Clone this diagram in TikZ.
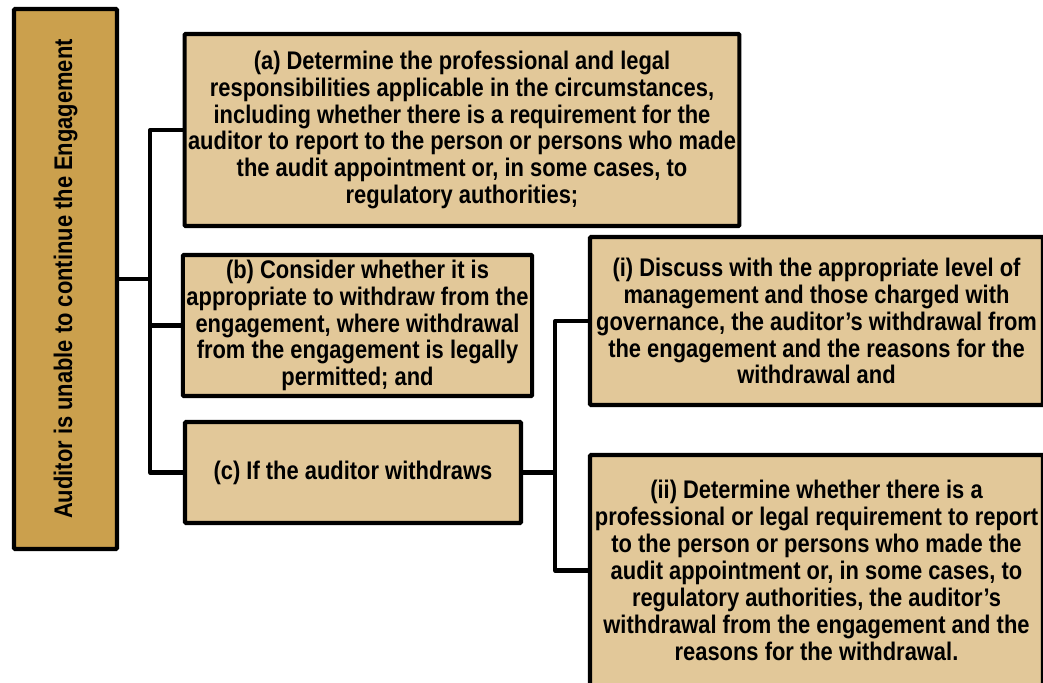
\documentclass[tikz,border=0pt]{standalone}
\usepackage{fontspec}
\setmainfont{Liberation Sans}[FakeStretch=0.86]
\usetikzlibrary{positioning}

\definecolor{goldbox}{HTML}{CBA04D}
\definecolor{tanbox}{HTML}{E2C899}

\tikzset{
  rootbox/.style={draw, line width=2.3pt, fill=goldbox, rounded corners=0.5pt, inner sep=2pt},
  leafbox/.style={draw, line width=2.3pt, fill=tanbox, rounded corners=0.5pt,
    align=center, font=\bfseries\fontsize{14.5}{15.3}\selectfont, inner sep=2pt},
  link/.style={line width=2.3pt, line join=round}
}

\begin{document}
\begin{tikzpicture}
    \useasboundingbox (0,0) rectangle (20.86,-13.64);

    \node[rootbox, minimum width=2.06cm, minimum height=10.8cm] (root) at (1.31,-5.58) {};
    \node[rotate=90, font=\bfseries\fontsize{14.5}{15.3}\selectfont] (rootlabel) at (root.center) {Auditor is unable to continue the Engagement};

    \node[leafbox, minimum width=11.08cm, minimum height=3.84cm] (a) at (9.24,-2.6)
      {(a) Determine the professional and legal\\ responsibilities applicable in the circumstances,\\ including whether there is a requirement for the\\ auditor to report to the person or persons who made\\ the audit appointment or, in some cases, to\\ regulatory authorities;};
    \node[leafbox, minimum width=6.9cm, minimum height=2.82cm] (b) at (7.15,-6.51)
      {(b) Consider whether it is\\ appropriate to withdraw from the\\ engagement, where withdrawal\\ from the engagement is legally\\ permitted; and};
    \node[leafbox, minimum width=6.72cm, minimum height=2.02cm] (c) at (7.06,-9.45)
      {(c) If the auditor withdraws};
    \node[leafbox, minimum width=9.06cm, minimum height=3.36cm] (i) at (16.33,-6.42)
      {(i) Discuss with the appropriate level of\\ management and those charged with\\ governance, the auditor’s withdrawal from\\ the engagement and the reasons for the\\ withdrawal and};
    \node[leafbox, minimum width=9.06cm, minimum height=4.62cm] (ii) at (16.33,-11.41)
      {(ii) Determine whether there is a\\ professional or legal requirement to report\\ to the person or persons who made the\\ audit appointment or, in some cases, to\\ regulatory authorities, the auditor’s\\ withdrawal from the engagement and the\\ reasons for the withdrawal.};

    \coordinate (trunk) at (3.0,-5.58);
    \coordinate (fork) at (11.1,-9.45);

    \draw[link] (root.east) -- (trunk);
    \draw[link] (trunk) |- (a.west);
    \draw[link] (trunk) |- (b.west);
    \draw[link] (trunk) |- (c.west);
    \draw[link] (c.east) -- (fork);
    \draw[link] (fork) |- (i.west);
    \draw[link] (fork) |- (ii.west);
\end{tikzpicture}
\end{document}
